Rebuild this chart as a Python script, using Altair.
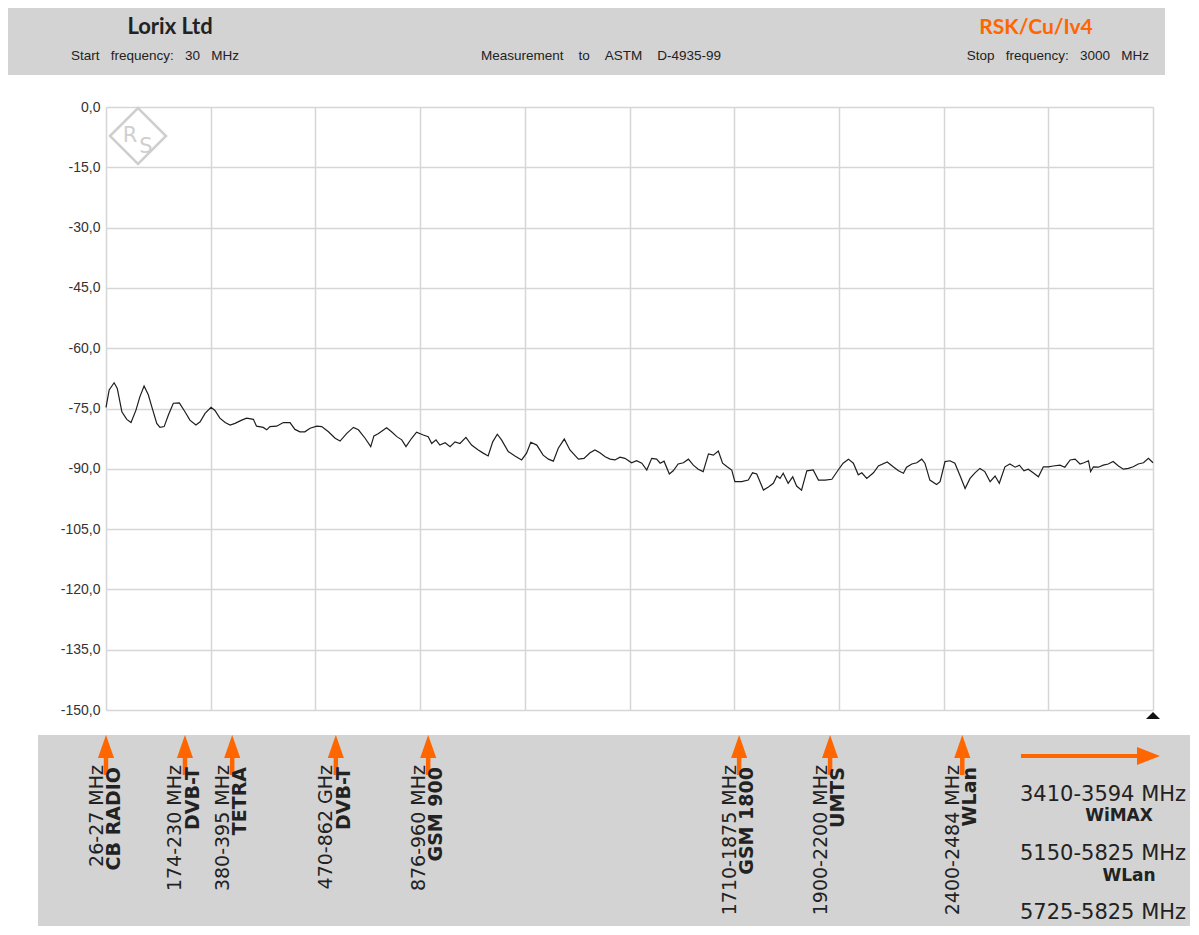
import altair as alt
import pandas as pd

# ---- measured trace (MHz, dB) ----
freq_mhz = [30, 39, 53, 62, 75, 89, 101, 115, 126, 138, 150, 160, 174, 183, 195, 207, 221, 238, 254, 268,
            285, 297, 311, 328, 339, 353, 368, 382, 396, 415, 429, 448, 457, 476, 486, 495, 514, 533, 552, 566,
            580, 594, 609, 628, 642, 661, 680, 694, 713, 732, 746,
            765, 781, 790, 802, 826, 840, 855, 869, 881, 897, 911, 930, 944, 954, 966, 977, 992, 1006, 1020,
            1034, 1051, 1067, 1086, 1100, 1114, 1127, 1140, 1152, 1171, 1190, 1209, 1223, 1235, 1252, 1270,
            1285, 1299, 1313, 1330, 1346, 1370, 1386, 1403, 1417, 1431, 1446, 1460, 1474, 1488,
            1502, 1521, 1535, 1550, 1564, 1578, 1592, 1602, 1613, 1628, 1639, 1653, 1668, 1682, 1696, 1710,
            1724, 1739, 1753, 1767, 1779, 1792, 1805, 1814, 1833, 1852, 1864, 1876, 1895, 1909, 1923, 1933,
            1942, 1951, 1965, 1978, 1989, 2003, 2018, 2036, 2051, 2070, 2089, 2107, 2121, 2136, 2150, 2164,
            2174, 2188, 2207, 2221,
            2246, 2263, 2278, 2292, 2301, 2316, 2330, 2344, 2353, 2367, 2386, 2396, 2410, 2424, 2438, 2453,
            2467, 2481, 2495, 2509, 2523, 2538, 2552, 2564, 2580, 2594, 2609, 2621, 2634, 2646, 2660, 2675,
            2689, 2703, 2717, 2736, 2750, 2765, 2779, 2793, 2804, 2817, 2823, 2831, 2845, 2859, 2873, 2887,
            2902, 2916, 2930, 2944, 2958, 2973, 2987, 3000]
level_db = [-74.7, -70.4, -68.6, -70.0, -75.8, -77.7, -78.5, -75.4, -72.1, -69.4, -71.6, -74.6, -78.7, -79.7,
            -79.5, -76.6, -73.7, -73.6, -75.8, -77.9, -79.1, -78.3, -76.2, -74.7, -75.5, -77.4, -78.5, -79.1,
            -78.7, -77.9, -77.4, -77.7, -79.4, -79.7, -80.3, -79.5, -79.4, -78.5, -78.5, -80.2, -80.8, -80.8,
            -79.9, -79.4, -79.5, -80.8, -82.4, -83.1, -81.2, -79.7, -80.3,
            -82.4, -84.5, -81.8, -81.3, -79.8, -80.8, -82.0, -82.8, -84.5, -82.4, -80.9, -81.6, -82.0, -83.7,
            -82.8, -84.1, -83.5, -84.5, -83.3, -83.7, -82.2, -84.1, -85.3, -86.1, -86.8, -83.3, -81.4, -82.8,
            -85.7, -86.8, -87.8, -86.1, -83.4, -84.1, -86.6, -87.6, -88.1, -84.9, -82.6, -85.3, -87.6, -87.4,
            -86.0, -85.3, -86.0, -87.0, -87.6, -87.8, -87.1,
            -87.4, -88.5, -88.0, -88.6, -90.3, -87.4, -87.6, -88.6, -88.1, -91.3, -90.5, -88.8, -88.5, -87.6,
            -89.1, -90.1, -90.7, -86.3, -86.6, -85.6, -88.6, -89.5, -90.3, -93.2, -93.2, -92.8, -91.0, -91.3,
            -95.3, -94.5, -93.6, -91.8, -92.4, -91.1, -93.6, -92.0, -94.3, -95.3, -90.5, -90.3, -92.8, -92.8,
            -92.6, -90.3, -88.6, -87.6, -88.6, -91.5, -91.0, -92.4, -91.0, -89.3,
            -88.3, -89.5, -90.5, -91.1, -89.6, -88.8, -88.5, -87.6, -88.6, -92.8, -93.9, -93.2, -88.2, -88.0,
            -88.6, -91.8, -94.9, -92.4, -91.0, -89.9, -90.7, -93.2, -91.8, -93.6, -89.5, -88.8, -89.6, -89.1,
            -90.5, -90.1, -91.0, -92.0, -89.5, -89.5, -89.3, -89.1, -89.6, -87.8, -87.6, -88.8, -88.5, -88.0,
            -90.7, -89.5, -89.6, -89.1, -88.8, -88.2, -89.3, -90.1, -89.9, -89.5, -88.8, -88.5, -87.4, -88.5]

# ---- axes ----
x_grid_mhz = [30, 327, 624, 921, 1218, 1515, 1812, 2109, 2406, 2703, 3000]
y_ticks_db = [0, -15, -30, -45, -60, -75, -90, -105, -120, -135, -150]

# ---- band markers ----
band_mhz = [30, 254, 388, 682, 944, 1826, 2084, 2459]
band_range = ["26-27 MHz", "174-230 MHz", "380-395 MHz", "470-862 GHz", "876-960 MHz",
              "1710-1875 MHz", "1900-2200 MHz", "2400-2484 MHz"]
band_name = ["CB RADIO", "DVB-T", "TETRA", "DVB-T", "GSM 900", "GSM 1800", "UMTS", "WLan"]

extra_range = ["3410-3594 MHz", "5150-5825 MHz", "5725-5825 MHz"]
extra_name = ["WiMAX", "WLan"]

GAP = "\u00a0\u00a0\u00a0"
header_left = "Lorix Ltd"
header_right = "RSK/Cu/Iv4"
sub_left = GAP.join(["Start", "frequency:", "30", "MHz"])
sub_mid = (GAP + "\u00a0").join(["Measurement", "to", "ASTM", "D-4935-99"])
sub_right = GAP.join(["Stop", "frequency:", "3000", "MHz"])

ORANGE = "#ff6600"
GREY_BAND = "#d3d3d3"

trace = pd.DataFrame({"freq": freq_mhz, "level": level_db})
bands = pd.DataFrame({"freq": band_mhz, "range": band_range, "name": band_name})
one = pd.DataFrame({"k": [0]})

xscale = alt.Scale(domain=[30, 3000], nice=False, zero=False)
yscale = alt.Scale(domain=[-150, 0], nice=False)

line = alt.Chart(trace).mark_line(color="#1e1e1e", strokeWidth=1.2).encode(
    x=alt.X("freq:Q", scale=xscale,
            axis=alt.Axis(values=x_grid_mhz, labels=False, ticks=False, domain=False, grid=True,
                          gridColor="#d6d6d6", gridWidth=1.5, title=None)),
    y=alt.Y("level:Q", scale=yscale,
            axis=alt.Axis(values=y_ticks_db, labelExpr="datum.value + ',0'", ticks=False, domain=False,
                          grid=True, gridColor="#d6d6d6", gridWidth=1.5, title=None,
                          labelFont="Liberation Sans", labelFontSize=14, labelColor="#333333",
                          labelPadding=6)),
)

def rect(x, x2, y, y2, color):
    return alt.Chart(one).mark_rect(color=color).encode(
        x=alt.value(x), x2=alt.value(x2), y=alt.value(y), y2=alt.value(y2))

def label(text, x, y, size, font="Liberation Sans", weight="normal", color="#222222", align="left"):
    return alt.Chart(one).mark_text(text=text, font=font, fontSize=size, fontWeight=weight, color=color,
                                    align=align, baseline="alphabetic").encode(
        x=alt.value(x), y=alt.value(y))

header = rect(-98, 1059, -99, -32, GREY_BAND)
band = rect(-68, 1084, 628, 819, GREY_BAND)

head_titles = [
    label(header_left, 64, -73, 22, font="Lato", weight="bold", align="center"),
    label(header_right, 930, -73, 21, font="Lato", weight="bold", color=ORANGE, align="center"),
    label(sub_left, -35, -47, 13.5),
    label(sub_mid, 495, -47, 13.5, align="center"),
    label(sub_right, 1043, -47, 13.5, align="right"),
]

# R&S watermark
logo = alt.Chart(one).mark_point(shape="diamond", filled=False, stroke="#cfcfcf", strokeWidth=2.5,
                                 size=3136, opacity=1).encode(x=alt.value(32), y=alt.value(29))
logo_r = label("R", 24, 35, 21, font="DejaVu Sans", color="#cfcfcf", align="center")
logo_s = label("S", 40, 46, 21, font="DejaVu Sans", color="#cfcfcf", align="center")

# end marker
end_mark = alt.Chart(one).mark_point(shape="M0,-0.5L1,0.5L-1,0.5Z", filled=True, color="#111111",
                                     size=196, opacity=1, strokeWidth=0).encode(
    x=alt.value(1047), y=alt.value(608.5))

# band arrows and labels
arrow_head = alt.Chart(bands).mark_point(shape="M0,-1L0.7,1L-0.7,1Z", filled=True, color=ORANGE,
                                         size=529, opacity=1, strokeWidth=0).encode(
    x=alt.X("freq:Q", scale=xscale), y=alt.value(639.5))
arrow_shaft = alt.Chart(bands).mark_rule(color=ORANGE, strokeWidth=4.5).encode(
    x=alt.X("freq:Q", scale=xscale), y=alt.value(645), y2=alt.value(668))
range_text = alt.Chart(bands).mark_text(angle=270, align="right", baseline="alphabetic", dy=-3.5,
                                        font="DejaVu Sans", fontSize=19, color="#222222").encode(
    x=alt.X("freq:Q", scale=xscale), y=alt.value(658), text="range:N")
name_text = alt.Chart(bands).mark_text(angle=270, align="right", baseline="alphabetic", dy=14,
                                       font="DejaVu Sans", fontSize=19, fontWeight="bold",
                                       color="#222222").encode(
    x=alt.X("freq:Q", scale=xscale), y=alt.value(660), text="name:N")

# right-hand arrow and extra bands
right_line = alt.Chart(one).mark_rule(color=ORANGE, strokeWidth=4).encode(
    x=alt.value(915), x2=alt.value(1034), y=alt.value(649))
right_head = alt.Chart(one).mark_point(shape="M1,0L-1,-0.78L-1,0.78Z", filled=True, color=ORANGE,
                                       size=529, opacity=1, strokeWidth=0).encode(
    x=alt.value(1042.5), y=alt.value(649))
extras = [
    label(extra_range[0], 914, 694, 21, font="DejaVu Sans"),
    label(extra_name[0], 1013, 714, 17, font="DejaVu Sans", weight="bold", align="center"),
    label(extra_range[1], 914, 753, 21, font="DejaVu Sans"),
    label(extra_name[1], 1023, 774, 17, font="DejaVu Sans", weight="bold", align="center"),
    label(extra_range[2], 914, 812, 21, font="DejaVu Sans"),
]

chart = alt.layer(
    header, band, *head_titles, logo, logo_r, logo_s, line, end_mark,
    arrow_shaft, arrow_head, range_text, name_text, right_line, right_head, *extras
).properties(width=1047, height=603, padding=0).configure_view(strokeWidth=0)

chart.save("out.html", embed_options={"renderer": "svg", "actions": False})
